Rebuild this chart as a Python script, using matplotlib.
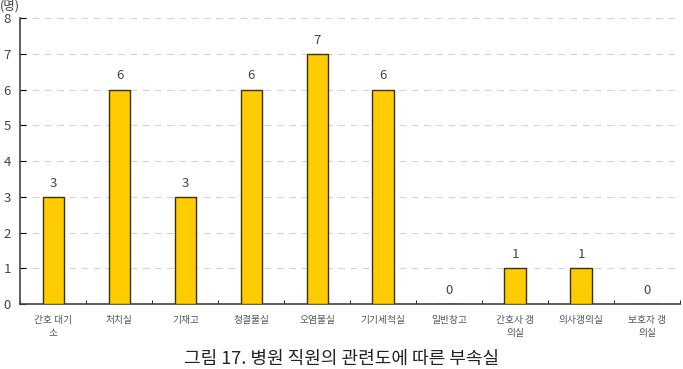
import matplotlib.pyplot as plt
import numpy as np

plt.rcParams["font.family"] = ["Noto Sans CJK KR", "DejaVu Sans"]

categories = ["간호 대기\n소", "처치실", "기재고", "청결물실", "오염물실", "기기세척실", "일반창고", "간호사 갱\n의실", "의사갱의실", "보호자 갱\n의실"]
counts = [3, 6, 3, 6, 7, 6, 0, 1, 1, 0]
y_ticks = [0, 1, 2, 3, 4, 5, 6, 7, 8]

fig = plt.figure(figsize=(6.83, 3.69), dpi=100)
ax = fig.add_axes([0.030, 0.176, 0.966, 0.775])

x = np.arange(len(categories))
ax.bar(x, counts, width=0.33, color="#FFCC00", edgecolor="#3a3000", linewidth=1.0, zorder=3)
for xi, v in zip(x, counts):
    ax.text(xi, v + 0.2, str(v), ha="center", va="bottom", fontsize=9.5, color="#444444")

ax.set_xlim(-0.5, len(categories) - 0.5)
ax.set_ylim(0, 8)
ax.set_yticks(y_ticks)
ax.yaxis.grid(True, linestyle=(0, (6, 5)), color="#d4d4d4", linewidth=0.8, zorder=0)
ax.tick_params(axis="y", direction="in", length=4, labelsize=9.5, labelcolor="#444444", pad=7)

ax.set_xticks(x)
ax.set_xticklabels(categories, fontsize=7, color="#555555", linespacing=1.4)
ax.tick_params(axis="x", length=0, pad=8)
ax.set_xticks(np.arange(len(categories) + 1) - 0.5, minor=True)
ax.tick_params(axis="x", which="minor", direction="in", length=3)

for s in ["top", "right"]:
    ax.spines[s].set_visible(False)
ax.spines["left"].set_color("#444444")
ax.spines["bottom"].set_color("#444444")
ax.spines["left"].set_linewidth(1.2)
ax.spines["bottom"].set_linewidth(1.2)

fig.text(0.0, 0.985, "(명)", fontsize=9, color="#444444", ha="left", va="center")
fig.text(0.5, 0.003, "그림 17. 병원 직원의 관련도에 따른 부속실", fontsize=13, color="#222222", ha="center", va="bottom")

fig.savefig("out.png", dpi=100)
